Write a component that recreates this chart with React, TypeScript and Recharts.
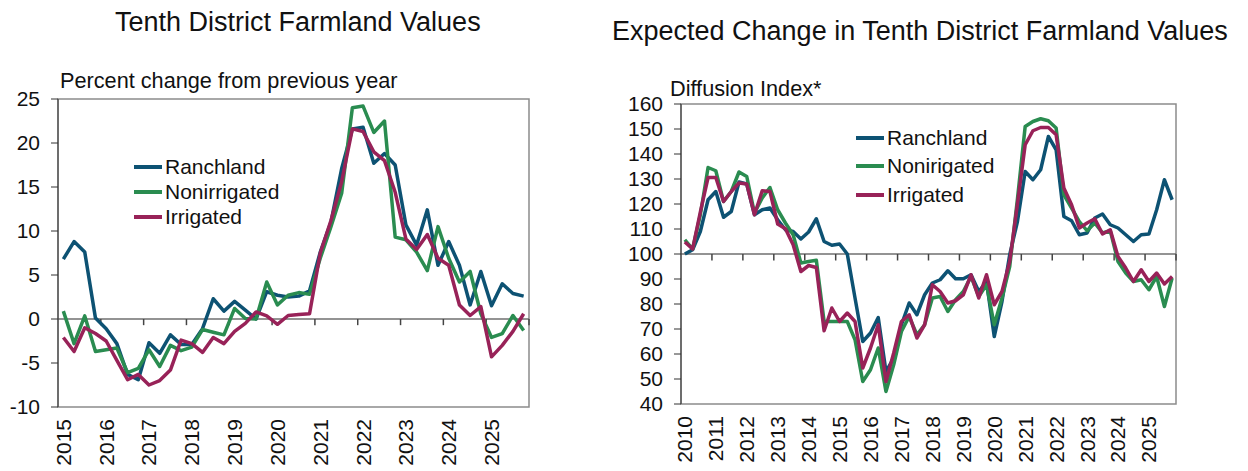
import React from "react";
import { LineChart, Line, XAxis, YAxis, ReferenceLine, ReferenceArea } from "recharts";

const BLUE = "#0d5273";
const GREEN = "#2a8c50";
const MAGENTA = "#982258";
const FONT = "'Liberation Sans', Arial, sans-serif";

// left panel: percent change from previous year, quarterly 2015Q1-2025Q4
const leftYears = ["2015", "2016", "2017", "2018", "2019", "2020", "2021", "2022", "2023", "2024", "2025"];
const leftTicks = [-10, -5, 0, 5, 10, 15, 20, 25];
const leftRanchland = [6.8, 8.8, 7.6, 0.1, -1.1, -2.8, -6.3, -6.9, -2.7, -3.9, -1.8, -2.9, -2.9, -1.1, 2.3, 0.9, 2.0, 1.0, 0.0, 3.1, 2.7, 2.5, 2.6, 3.2, 7.6, 11.0, 17.1, 21.6, 21.8, 17.7, 18.8, 17.5, 10.7, 8.4, 12.4, 6.1, 8.8, 6.1, 1.6, 5.4, 1.5, 4.0, 2.9, 2.6];
const leftNonirrigated = [0.9, -2.8, 0.35, -3.7, -3.5, -3.3, -6.1, -5.6, -3.5, -5.4, -3.0, -3.6, -3.2, -1.2, -1.5, -1.8, 1.2, 0.05, 0.0, 4.2, 1.6, 2.7, 3.0, 2.8, 6.9, 10.5, 14.3, 24.0, 24.2, 21.2, 22.5, 9.3, 9.0, 7.6, 5.5, 10.5, 6.9, 4.2, 5.4, 0.6, -2.1, -1.65, 0.4, -1.3];
const leftIrrigated = [-2.1, -3.7, -1.0, -1.65, -2.5, -4.7, -6.9, -6.3, -7.5, -7.0, -5.8, -2.4, -2.8, -3.8, -2.1, -2.8, -1.4, -0.5, 0.8, 0.35, -0.6, 0.4, 0.5, 0.6, 7.5, 11.2, 15.6, 21.6, 21.3, 19.0, 18.0, 14.4, 9.1, 7.9, 9.6, 6.9, 6.1, 1.6, 0.4, 1.4, -4.3, -3.0, -1.4, 0.6];

// right panel: diffusion index, quarterly 2010Q1-2025Q4
const rightYears = ["2010", "2011", "2012", "2013", "2014", "2015", "2016", "2017", "2018", "2019", "2020", "2021", "2022", "2023", "2024", "2025"];
const rightTicks = [40, 50, 60, 70, 80, 90, 100, 110, 120, 130, 140, 150, 160];
const rightRanchland = [100, 101.7, 109, 121.7, 125, 114.7, 117, 128.8, 128, 115.7, 117.7, 118.4, 113.7, 109.7, 109, 106, 108.8, 114.1, 105, 103.5, 104, 100, 82.4, 65, 68.4, 74.6, 53, 58.4, 71.7, 80.4, 75.7, 83.7, 88.4, 89.7, 93.3, 90.1, 90.1, 91.7, 85, 89, 67, 81, 99.7, 113, 133, 129.7, 133.7, 147, 141.7, 115, 113.3, 107.7, 108.4, 114.4, 116, 111.7, 110.4, 107.7, 105, 107.7, 108, 117.7, 129.7, 121.7];
const rightNonirigated = [105.7, 102, 115.7, 134.6, 133.3, 121, 125, 132.8, 131, 116.4, 122.4, 126.6, 117.7, 112.4, 107.7, 96.4, 97, 97.5, 73, 73, 73, 73, 65.7, 49, 53.7, 62.4, 45, 55.7, 69, 75, 67.7, 71.7, 82.4, 83, 77, 81.7, 85, 91, 83, 87.7, 71.7, 82.4, 95, 122, 151, 153, 154.1, 153.3, 150.4, 123.7, 118.4, 113, 109.3, 112.4, 108.4, 109.3, 97, 92.4, 89, 89.7, 85.7, 91, 79, 90.4];
const rightIrrigated = [104.8, 102, 116.8, 130.6, 130.6, 121, 125, 128.4, 128, 115.7, 125.3, 125, 112, 110.1, 103.7, 93, 95.4, 94.6, 69.3, 78.4, 73, 76.4, 73, 54.4, 62.4, 71.7, 49, 60.4, 73, 75.7, 66.4, 71.7, 87.7, 85, 80.4, 81.3, 83.7, 91.7, 82.4, 91.7, 79.7, 85, 97, 120, 143.7, 149.3, 150.6, 150.6, 147.7, 126.4, 119.7, 110.4, 112.4, 114.1, 108, 109.7, 99, 94.4, 89, 93.7, 89, 92.4, 88, 91];

const toRows = (a: number[], b: number[], c: number[]) =>
  a.map((v, i) => ({ x: i + 0.5, a: v, b: b[i], c: c[i] }));

const YearTick = (props: any) => {
  const { x, y, payload, years } = props;
  const ty = y + 12;
  return (
    <text x={x} y={ty} transform={`rotate(-90, ${x}, ${ty})`} textAnchor="end" dominantBaseline="central"
      fontSize={21} fill="#111" fontFamily={FONT}>
      {years[Math.floor(payload.value / 4)]}
    </text>
  );
};

const LegendBox = ({ left, top, row, names }: { left: number; top: number; row: number; names: string[] }) => (
  <div style={{ position: "absolute", left, top, fontFamily: FONT, fontSize: 21, color: "#111" }}>
    {names.map((n, i) => (
      <div key={n} style={{ display: "flex", alignItems: "center", height: row, lineHeight: `${row}px` }}>
        <span style={{ display: "inline-block", width: 28, height: 4, background: [BLUE, GREEN, MAGENTA][i], marginRight: 3 }} />
        {n}
      </div>
    ))}
  </div>
);

type PanelProps = {
  width: number; margin: any; yWidth: number; xHeight: number; rows: any[]; years: string[];
  ticks: number[]; yMin: number; yMax: number; base: number; tickLen: number;
};

const Panel = ({ width, margin, yWidth, xHeight, rows, years, ticks, yMin, yMax, base, tickLen }: PanelProps) => {
  const n = rows.length;
  const bounds = years.map((_, k) => (k + 1) * 4);
  return (
    <LineChart width={width} height={471} data={rows} margin={margin}>
      <ReferenceArea x1={0} x2={n} y1={yMin} y2={yMax} fill="none" stroke="#8c8c8c" strokeWidth={1.5} ifOverflow="visible" />
      <XAxis type="number" dataKey="x" domain={[0, n]} ticks={years.map((_, k) => k * 4 + 0.5)}
        axisLine={false} tickLine={false} tickSize={0} tickMargin={0} height={xHeight} interval={0}
        tick={<YearTick years={years} />} />
      <YAxis type="number" domain={[yMin, yMax]} ticks={ticks} width={yWidth} interval={0}
        stroke="#333" tickSize={7} tickMargin={11} tick={{ fontSize: 21, fill: "#111", fontFamily: FONT }} />
      <ReferenceLine y={base} stroke="#6f6f6f" strokeWidth={1.5} />
      {bounds.map((b) => (
        <ReferenceLine key={b} segment={[{ x: b, y: base }, { x: b, y: base - tickLen }]} stroke="#444" strokeWidth={1.5} ifOverflow="visible" />
      ))}
      <Line type="linear" dataKey="a" stroke={BLUE} strokeWidth={3.5} dot={false} isAnimationActive={false} strokeLinejoin="round" />
      <Line type="linear" dataKey="b" stroke={GREEN} strokeWidth={3.5} dot={false} isAnimationActive={false} strokeLinejoin="round" />
      <Line type="linear" dataKey="c" stroke={MAGENTA} strokeWidth={3.5} dot={false} isAnimationActive={false} strokeLinejoin="round" />
    </LineChart>
  );
};

export default function App() {
  const leftRows = toRows(leftRanchland, leftNonirrigated, leftIrrigated);
  const rightRows = toRows(rightRanchland, rightNonirigated, rightIrrigated);
  return (
    <div style={{ position: "absolute", left: 0, top: 0, width: 1248, height: 471, background: "#fff", fontFamily: FONT, overflow: "hidden" }}>
      <div style={{ position: "absolute", left: 0, top: 0 }}>
        <Panel width={540} margin={{ top: 99, right: 11, left: 0, bottom: 0 }} yWidth={58} xHeight={64}
          rows={leftRows} years={leftYears} ticks={leftTicks} yMin={-10} yMax={25} base={0} tickLen={0.7} />
      </div>
      <div style={{ position: "absolute", left: 600, top: 0 }}>
        <Panel width={590} margin={{ top: 104, right: 14, left: 0, bottom: 0 }} yWidth={81} xHeight={67}
          rows={rightRows} years={rightYears} ticks={rightTicks} yMin={40} yMax={160} base={100} tickLen={2.6} />
      </div>
      <div style={{ position: "absolute", left: 115, top: 9, fontSize: 27, lineHeight: 1, whiteSpace: "nowrap", color: "#111" }}>
        Tenth District Farmland Values
      </div>
      <div style={{ position: "absolute", left: 612, top: 18, fontSize: 27, lineHeight: 1, whiteSpace: "nowrap", color: "#111" }}>
        Expected Change in Tenth District Farmland Values
      </div>
      <div style={{ position: "absolute", left: 60, top: 70, fontSize: 21.7, lineHeight: 1, whiteSpace: "nowrap", color: "#111" }}>
        Percent change from previous year
      </div>
      <div style={{ position: "absolute", left: 670, top: 78, fontSize: 21.7, lineHeight: 1, whiteSpace: "nowrap", color: "#111" }}>
        Diffusion Index*
      </div>
      <LegendBox left={134} top={154} row={25} names={["Ranchland", "Nonirrigated", "Irrigated"]} />
      <LegendBox left={856} top={124} row={28.3} names={["Ranchland", "Nonirigated", "Irrigated"]} />
    </div>
  );
}
